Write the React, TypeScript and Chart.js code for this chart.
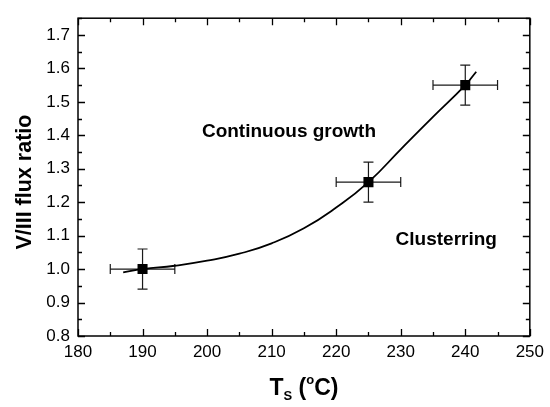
import React, { useEffect, useRef } from 'react';
import { Chart, registerables } from 'chart.js';

Chart.register(...registerables);

// ---- data ----
const tempC = [190, 225, 240];
const fluxRatio = [1.0, 1.26, 1.55];
const tempErr = [5, 5, 5];
const ratioErr = [0.06, 0.06, 0.06];

const fitTemp = [187, 190, 195, 200, 205, 210, 215, 220, 225, 230, 235, 240, 241.7];
const fitRatio = [0.99, 1.0, 1.01, 1.025, 1.046, 1.077, 1.122, 1.184, 1.26, 1.358, 1.455, 1.55, 1.59];

const xTickValues = [180, 190, 200, 210, 220, 230, 240, 250];
const yTickValues = [0.8, 0.9, 1.0, 1.1, 1.2, 1.3, 1.4, 1.5, 1.6, 1.7];
const xMin = 180;
const xMax = 250;
const yMin = 0.8;
const yMax = 1.75;

const yAxisTitle = 'V/III flux ratio';
const regionLabels = ['Continuous growth', 'Clusterring'];

const FONT = '"Liberation Sans", Arial, Helvetica, sans-serif';

const decorPlugin = {
  id: 'decor',
  beforeDatasetsDraw(chart: any) {
    const { ctx, scales } = chart;
    const x = scales.x;
    const y = scales.y;
    ctx.save();
    ctx.strokeStyle = '#1a1a1a';
    ctx.lineWidth = 1.2;
    const cap = 5;
    for (let i = 0; i < tempC.length; i++) {
      const px = x.getPixelForValue(tempC[i]);
      const py = y.getPixelForValue(fluxRatio[i]);
      const xl = x.getPixelForValue(tempC[i] - tempErr[i]);
      const xr = x.getPixelForValue(tempC[i] + tempErr[i]);
      const yt = y.getPixelForValue(fluxRatio[i] + ratioErr[i]);
      const yb = y.getPixelForValue(fluxRatio[i] - ratioErr[i]);
      ctx.beginPath();
      ctx.moveTo(xl, py); ctx.lineTo(xr, py);
      ctx.moveTo(xl, py - cap); ctx.lineTo(xl, py + cap);
      ctx.moveTo(xr, py - cap); ctx.lineTo(xr, py + cap);
      ctx.moveTo(px, yt); ctx.lineTo(px, yb);
      ctx.moveTo(px - cap, yt); ctx.lineTo(px + cap, yt);
      ctx.moveTo(px - cap, yb); ctx.lineTo(px + cap, yb);
      ctx.stroke();
    }
    ctx.restore();
  },
  afterDraw(chart: any) {
    const { ctx, chartArea: a, scales } = chart;
    const x = scales.x;
    const y = scales.y;
    ctx.save();
    // frame
    ctx.strokeStyle = '#000';
    ctx.lineWidth = 1.5;
    ctx.strokeRect(a.left, a.top, a.right - a.left, a.bottom - a.top);
    // tick marks (inward, major + minor, mirrored)
    ctx.beginPath();
    for (let k = 0; k <= 14; k++) {
      const v = xMin + k * 5;
      const len = k % 2 === 0 ? 7 : 4;
      const px = Math.round(x.getPixelForValue(v)) + 0.5;
      ctx.moveTo(px, a.bottom); ctx.lineTo(px, a.bottom - len);
      ctx.moveTo(px, a.top); ctx.lineTo(px, a.top + len);
    }
    for (let k = 0; k <= 19; k++) {
      const v = Math.round((yMin + k * 0.05) * 100) / 100;
      if (v > yMax) break;
      const len = k % 2 === 0 ? 7 : 4;
      const py = Math.round(y.getPixelForValue(v)) + 0.5;
      ctx.moveTo(a.left, py); ctx.lineTo(a.left + len, py);
      ctx.moveTo(a.right, py); ctx.lineTo(a.right - len, py);
    }
    ctx.lineWidth = 1.3;
    ctx.stroke();

    ctx.fillStyle = '#000';
    // region labels
    ctx.font = `bold 19px ${FONT}`;
    ctx.textAlign = 'left';
    ctx.textBaseline = 'alphabetic';
    ctx.fillText(regionLabels[0], x.getPixelForValue(199.2), y.getPixelForValue(1.396));
    ctx.fillText(regionLabels[1], x.getPixelForValue(229.2), y.getPixelForValue(1.073));

    // y title
    ctx.save();
    ctx.translate(25, (a.top + a.bottom) / 2 + 5);
    ctx.rotate(-Math.PI / 2);
    ctx.font = `bold 21.5px ${FONT}`;
    ctx.textAlign = 'center';
    ctx.textBaseline = 'middle';
    ctx.fillText(yAxisTitle, 0, 0);
    ctx.restore();

    // x title: T_S (°C) with sub/superscript
    const parts = [
      { t: 'T', size: 23, dy: 0 },
      { t: 'S', size: 13, dy: 5 },
      { t: ' (', size: 23, dy: 0 },
      { t: 'o', size: 13, dy: -11 },
      { t: 'C)', size: 23, dy: 0 },
    ];
    let total = 0;
    const widths = parts.map((p) => {
      ctx.font = `bold ${p.size}px ${FONT}`;
      const w = ctx.measureText(p.t).width;
      total += w;
      return w;
    });
    let cx = (a.left + a.right) / 2 - total / 2;
    const base = a.bottom + 59;
    ctx.textAlign = 'left';
    ctx.textBaseline = 'alphabetic';
    parts.forEach((p, i) => {
      ctx.font = `bold ${p.size}px ${FONT}`;
      ctx.fillText(p.t, cx, base + p.dy);
      cx += widths[i];
    });
    ctx.restore();
  },
};

export default function App() {
  const ref = useRef<HTMLCanvasElement | null>(null);

  useEffect(() => {
    if (!ref.current) return;
    const chart = new Chart(ref.current, {
      type: 'scatter',
      data: {
        datasets: [
          {
            label: 'data',
            data: tempC.map((t, i) => ({ x: t, y: fluxRatio[i] })),
            pointStyle: 'rect',
            pointRadius: 7.1,
            pointBackgroundColor: '#000',
            pointBorderColor: '#000',
            pointBorderWidth: 0,
            showLine: false,
          },
          {
            label: 'fit',
            data: fitTemp.map((t, i) => ({ x: t, y: fitRatio[i] })),
            showLine: true,
            borderColor: '#000',
            borderWidth: 1.8,
            pointRadius: 0,
            tension: 0.5,
            fill: false,
          },
        ],
      },
      options: {
        responsive: false,
        animation: false,
        events: [],
        layout: { padding: { top: 14, right: 17, left: 0, bottom: 0 } },
        plugins: { legend: { display: false }, tooltip: { enabled: false } },
        scales: {
          x: {
            type: 'linear',
            min: xMin,
            max: xMax,
            grid: { display: false, drawTicks: false },
            border: { display: false },
            afterBuildTicks: (s: any) => {
              s.ticks = xTickValues.map((v) => ({ value: v }));
            },
            afterFit: (s: any) => {
              s.height = 71;
            },
            ticks: {
              autoSkip: false,
              maxRotation: 0,
              padding: 6,
              color: '#000',
              font: { family: FONT, size: 17 },
              callback: (v: any) => String(v),
            },
          },
          y: {
            type: 'linear',
            min: yMin,
            max: yMax,
            grid: { display: false, drawTicks: false },
            border: { display: false },
            afterBuildTicks: (s: any) => {
              s.ticks = yTickValues.map((v) => ({ value: v }));
            },
            afterFit: (s: any) => {
              s.width = 78;
            },
            ticks: {
              autoSkip: false,
              padding: 8,
              color: '#000',
              font: { family: FONT, size: 17 },
              callback: (v: any) => Number(v).toFixed(1),
            },
          },
        },
      },
      plugins: [decorPlugin],
    } as any);
    return () => chart.destroy();
  }, []);

  return (
    <div style={{ position: 'absolute', left: 0, top: 0, width: 550, height: 407, background: '#fff' }}>
      <canvas ref={ref} width={550} height={407} style={{ display: 'block' }} />
    </div>
  );
}
